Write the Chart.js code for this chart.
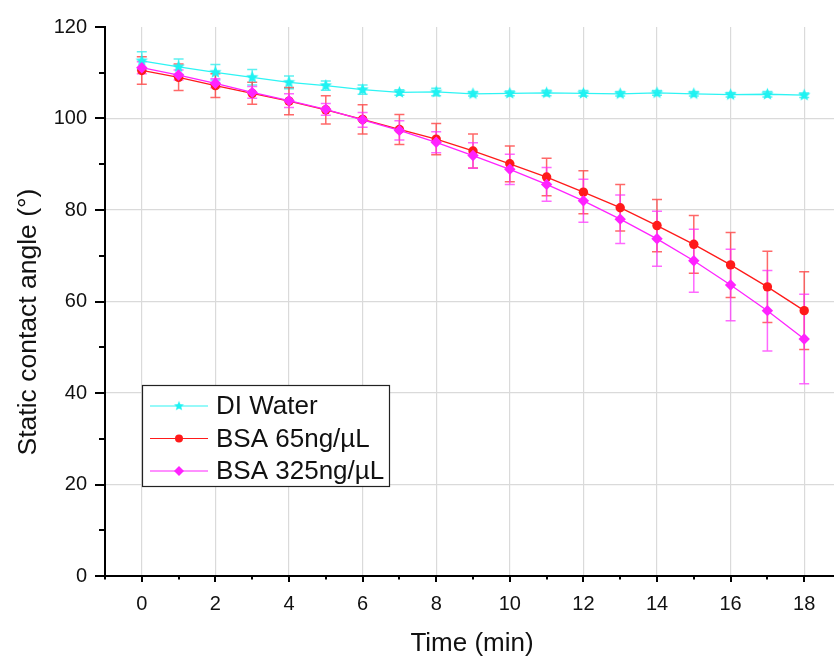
<!DOCTYPE html>
<html>
<head>
<meta charset="utf-8">
<script src="https://cdn.jsdelivr.net/npm/chart.js@4"></script>
<style>
  html, body { margin: 0; padding: 0; background: #fff; overflow: hidden; }
  #wrap { width: 834px; height: 657px; overflow: hidden; }
  canvas { display: block; }
</style>
</head>
<body>
<div id="wrap"><canvas id="angleChart" width="847" height="657"></canvas></div>
<script>
const times = [0, 1, 2, 3, 4, 5, 6, 7, 8, 9, 10, 11, 12, 13, 14, 15, 16, 17, 18];
const diWater = [112.6, 111.3, 110.1, 109.0, 107.9, 107.2, 106.3, 105.7, 105.8, 105.4, 105.5, 105.6, 105.5, 105.4, 105.6, 105.4, 105.2, 105.3, 105.1];
const diWaterErr = [2.0, 1.7, 1.7, 1.7, 1.4, 1.0, 1.0, 0.6, 0.8, 0.5, 0.5, 0.6, 0.6, 0.5, 0.5, 0.5, 0.5, 0.6, 0.5];
const bsa65 = [110.5, 109.0, 107.2, 105.5, 103.8, 101.9, 99.8, 97.6, 95.5, 92.9, 90.1, 87.2, 83.9, 80.5, 76.6, 72.5, 68.0, 63.2, 58.0];
const bsa65Err = [3.0, 2.9, 2.6, 2.4, 3.0, 3.1, 3.2, 3.3, 3.4, 3.7, 3.9, 4.1, 4.7, 5.1, 5.7, 6.3, 7.1, 7.8, 8.5];
const bsa325 = [111.1, 109.5, 107.7, 105.7, 103.9, 102.0, 99.7, 97.4, 94.8, 91.9, 88.9, 85.6, 82.0, 78.0, 73.7, 68.9, 63.6, 58.0, 51.8];
const bsa325Err = [1.3, 1.1, 1.0, 1.3, 1.5, 1.3, 1.6, 2.1, 2.3, 2.8, 3.3, 3.7, 4.7, 5.3, 6.0, 6.9, 7.8, 8.8, 9.8];
const xTicks = [0, 2, 4, 6, 8, 10, 12, 14, 16, 18];
const yTicks = [0, 20, 40, 60, 80, 100, 120];

const FONT = '"Liberation Sans", Arial, sans-serif';

// filled five point star for the DI water markers
function starImage(color, r) {
    const c = document.createElement('canvas');
    const s = Math.ceil(r * 2 + 2);
    c.width = s; c.height = s;
    const g = c.getContext('2d');
    g.fillStyle = color;
    g.beginPath();
    for (let i = 0; i < 10; i++) {
        const rad = i % 2 === 0 ? r : r * 0.45;
        const a = -Math.PI / 2 + i * Math.PI / 5;
        const px = s / 2 + rad * Math.cos(a), py = s / 2 + rad * Math.sin(a);
        if (i === 0) g.moveTo(px, py); else g.lineTo(px, py);
    }
    g.closePath();
    g.fill();
    return c;
}
const star = starImage('#1ff2f2', 6.5);

const series = [
    { label: 'DI Water', data: diWater, err: diWaterErr, color: '#2ef4f4', errColor: 'rgba(40,235,235,0.75)', style: star, radius: 6, order: 2 },
    { label: 'BSA 65ng/\u00b5L', data: bsa65, err: bsa65Err, color: '#ff1a1a', errColor: 'rgba(255,40,40,0.7)', style: 'circle', radius: 4.7, order: 1 },
    { label: 'BSA 325ng/\u00b5L', data: bsa325, err: bsa325Err, color: '#ff22ff', errColor: 'rgba(255,40,255,0.7)', style: 'rectRot', radius: 5.7, order: 0 }
];

const errorBars = {
    id: 'errorBars',
    beforeDatasetsDraw(chart) {
        const { ctx, scales: { x, y } } = chart;
        ctx.save();
        ctx.lineWidth = 1.5;
        series.forEach(s => {
            ctx.strokeStyle = s.errColor;
            s.data.forEach((v, i) => {
                const px = x.getPixelForValue(times[i]);
                const top = y.getPixelForValue(v + s.err[i]);
                const bot = y.getPixelForValue(v - s.err[i]);
                ctx.beginPath();
                ctx.moveTo(px, top); ctx.lineTo(px, bot);
                ctx.moveTo(px - 5, top); ctx.lineTo(px + 5, top);
                ctx.moveTo(px - 5, bot); ctx.lineTo(px + 5, bot);
                ctx.stroke();
            });
        });
        ctx.restore();
    }
};

// tick marks, axis titles and the boxed legend inside the plot
const axisDecor = {
    id: 'axisDecor',
    afterDraw(chart) {
        const { ctx, chartArea: a, scales: { x, y } } = chart;
        ctx.save();
        ctx.strokeStyle = '#000';
        ctx.lineWidth = 2;
        for (let v = -1; v <= 19; v++) {
            const px = Math.round(x.getPixelForValue(v));
            const len = v % 2 === 0 ? 6 : 3.5;
            ctx.beginPath(); ctx.moveTo(px, a.bottom); ctx.lineTo(px, a.bottom + len); ctx.stroke();
        }
        for (let v = 0; v <= 120; v += 10) {
            const py = Math.round(y.getPixelForValue(v));
            const len = v % 20 === 0 ? 10 : 6;
            ctx.beginPath(); ctx.moveTo(a.left, py); ctx.lineTo(a.left - len, py); ctx.stroke();
        }

        // axis titles
        ctx.fillStyle = '#111';
        ctx.font = '26px ' + FONT;
        ctx.textAlign = 'center';
        ctx.textBaseline = 'alphabetic';
        ctx.fillText('Time (min)', 472, 651);
        ctx.save();
        ctx.translate(36, 322);
        ctx.rotate(-Math.PI / 2);
        ctx.font = '26.5px ' + FONT;
        ctx.fillText('Static contact angle (\u00b0)', 0, 0);
        ctx.restore();

        // legend
        const lx = a.left + 37, ly = a.top + 358, lw = 247, lh = 101;
        ctx.fillStyle = '#fff';
        ctx.fillRect(lx, ly, lw, lh);
        ctx.lineWidth = 1.2;
        ctx.strokeStyle = '#222';
        ctx.strokeRect(lx + 0.5, ly + 0.5, lw, lh);
        ctx.font = '26px ' + FONT;
        ctx.textAlign = 'left';
        ctx.textBaseline = 'middle';
        series.forEach((s, i) => {
            const ry = ly + 21 + i * 32.5;
            ctx.strokeStyle = s.color;
            ctx.lineWidth = 1.2;
            ctx.beginPath(); ctx.moveTo(lx + 8, ry); ctx.lineTo(lx + 66, ry); ctx.stroke();
            if (s.style === 'circle') {
                ctx.fillStyle = s.color;
                ctx.beginPath(); ctx.arc(lx + 37, ry, 4, 0, Math.PI * 2); ctx.fill();
            } else if (s.style === 'rectRot') {
                ctx.fillStyle = s.color;
                ctx.beginPath();
                ctx.moveTo(lx + 37, ry - 5); ctx.lineTo(lx + 42, ry); ctx.lineTo(lx + 37, ry + 5); ctx.lineTo(lx + 32, ry);
                ctx.closePath(); ctx.fill();
            } else {
                const w = s.style.width * 0.8;
                ctx.drawImage(s.style, lx + 37 - w / 2, ry - w / 2, w, w);
            }
            ctx.fillStyle = '#111';
            ctx.fillText(s.label, lx + 74, ry + 1);
        });
        ctx.restore();
    }
};

new Chart(document.getElementById('angleChart'), {
    type: 'line',
    data: {
        datasets: series.map(s => ({
            label: s.label,
            data: times.map((t, i) => ({ x: t, y: s.data[i] })),
            borderColor: s.color,
            backgroundColor: s.color,
            borderWidth: 1.3,
            pointStyle: s.style,
            pointRadius: s.radius,
            pointBorderWidth: 0,
            pointBackgroundColor: s.color,
            order: s.order,
            tension: 0
        }))
    },
    options: {
        responsive: false,
        animation: false,
        events: [],
        layout: { padding: { top: 27, right: 3, left: 0, bottom: 0 } },
        plugins: { legend: { display: false }, tooltip: { enabled: false } },
        scales: {
            x: {
                type: 'linear',
                min: -1,
                max: 19,
                afterFit: s => { s.height = 81; s.paddingLeft = 0; s.paddingRight = 0; },
                afterBuildTicks: s => { s.ticks = []; for (let v = -1; v <= 19; v++) s.ticks.push({ value: v }); },
                border: { color: '#000', width: 2 },
                grid: {
                    drawTicks: false,
                    color: c => xTicks.includes(c.tick.value) ? '#dadada' : 'rgba(0,0,0,0)',
                    lineWidth: 1.2
                },
                ticks: {
                    padding: 16,
                    color: '#111',
                    font: { family: FONT, size: 20 },
                    maxRotation: 0,
                    autoSkip: false,
                    callback: v => xTicks.includes(v) ? String(v) : ''
                }
            },
            y: {
                type: 'linear',
                min: 0,
                max: 120,
                afterFit: s => { s.width = 105; s.paddingTop = 0; s.paddingBottom = 0; },
                afterBuildTicks: s => { s.ticks = []; for (let v = 0; v <= 120; v += 10) s.ticks.push({ value: v }); },
                border: { color: '#000', width: 2 },
                grid: {
                    drawTicks: false,
                    color: c => (c.tick.value > 0 && c.tick.value < 120 && c.tick.value % 20 === 0) ? '#dadada' : 'rgba(0,0,0,0)',
                    lineWidth: 1.2
                },
                ticks: {
                    padding: 18,
                    color: '#111',
                    font: { family: FONT, size: 20 },
                    autoSkip: false,
                    callback: v => yTicks.includes(v) ? String(v) : ''
                }
            }
        }
    },
    plugins: [errorBars, axisDecor]
});
</script>
</body>
</html>
